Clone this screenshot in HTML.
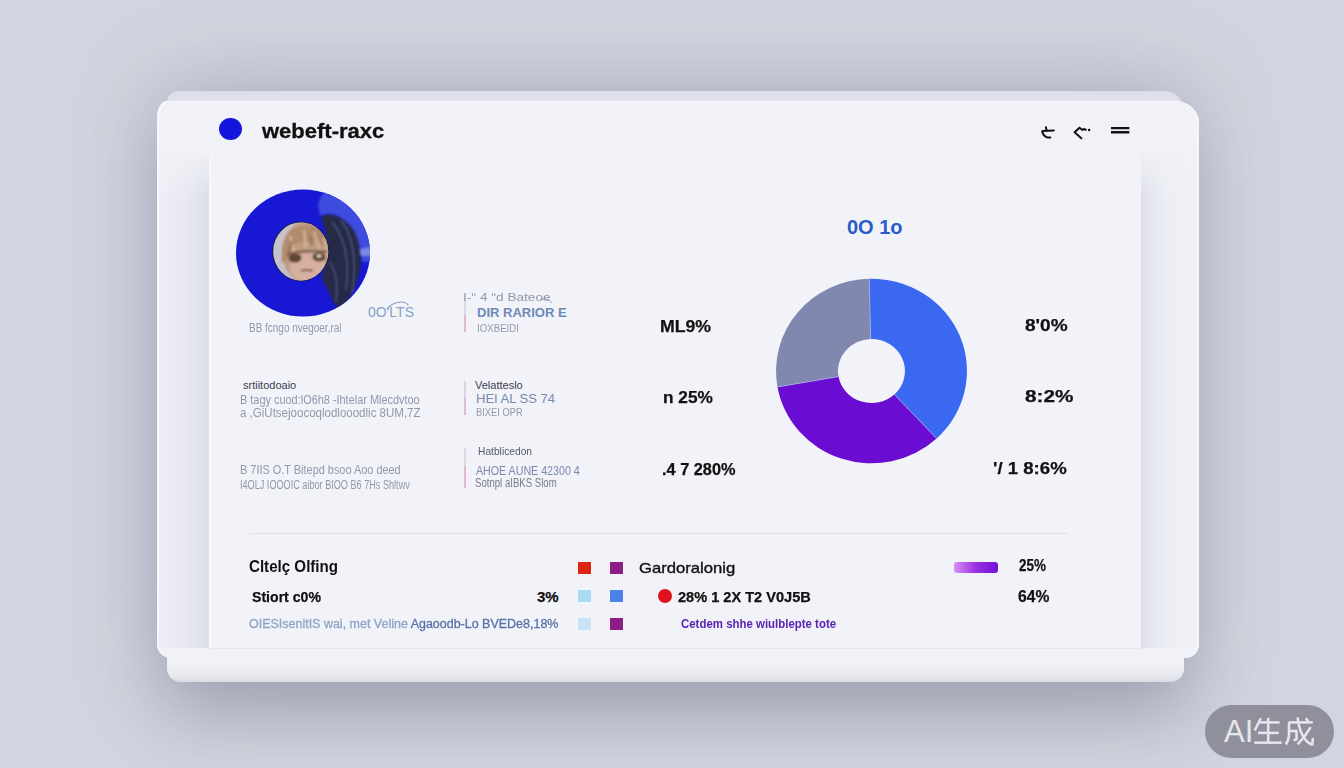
<!DOCTYPE html>
<html><head><meta charset="utf-8">
<style>
html,body{margin:0;padding:0;}
body{width:1344px;height:768px;overflow:hidden;position:relative;font-family:"Liberation Sans",sans-serif;
background:#d2d4df;}
.abs{position:absolute;}
.t{position:absolute;white-space:nowrap;line-height:1;transform-origin:0 0;}
#back{left:167px;top:91px;width:1017px;height:591px;border-radius:12px 20px 14px 14px;background:linear-gradient(#dcdde8 0,#e0e1eb 8px,#eff0f6 40px,#f2f3f8 90%,#f2f2f7 96%,#e8e9ef 99%,#dadbe3 100%);box-shadow:0 0 90px rgba(120,124,148,.36),0 30px 70px rgba(100,104,125,.38);}
#front{left:157px;top:101px;width:1042px;height:557px;border-radius:10px 24px 14px 14px / 17px 22px 14px 14px;background:#f1f2f7;box-shadow:inset 2px 1px 0 #f8f8fc,inset -2px 0 0 #f6f6fa;}
#inner{left:209px;top:157px;width:932px;height:491px;border-radius:5px 5px 0 0;background:#f2f3f8;box-shadow:inset 2px 0 0 #f8f8fc;border-bottom:1px solid #e6e7ee;}
#bevL{left:159px;top:150px;width:50px;height:498px;-webkit-mask-image:linear-gradient(transparent,#000 45px);mask-image:linear-gradient(transparent,#000 45px);background:linear-gradient(90deg,#eff0f6,#e6e7f0 60%,#dcdee9);}
#bevR{left:1141px;top:150px;width:56px;height:498px;-webkit-mask-image:linear-gradient(transparent,#000 45px);mask-image:linear-gradient(transparent,#000 45px);background:linear-gradient(90deg,#dfe0ea,#eceef4 45%,#f0f1f6);}
#badge{left:1205px;top:705px;width:129px;height:53px;border-radius:27px;background:#8f909c;}
.g{color:#9297ac;font-size:12px;}
.dk{color:#3c4052;font-size:11px;}
.bg{color:#7a88b0;font-size:13px;}
.pc{color:#111;font-size:17px;font-weight:bold;-webkit-text-stroke:0.25px #111;}
.sq{position:absolute;width:13px;height:12px;}
</style></head>
<body>
<div class="abs" id="back"></div>
<div class="abs" id="front"></div>
<div class="abs" id="bevL"></div>
<div class="abs" id="bevR"></div>
<div class="abs" id="inner"></div>
<div class="abs" id="badge"></div>

<!-- header -->
<div class="abs" style="left:219px;top:118px;width:23px;height:22px;border-radius:50%;background:#1414dc;"></div>
<div class="t" style="left:262px;top:121px;font-size:20px;font-weight:bold;color:#111;-webkit-text-stroke:0.3px #111;transform:scaleX(1.1);">webeft-raxc</div>

<svg class="abs" style="left:0;top:0" width="1344" height="768" viewBox="0 0 1344 768">
  <defs>
    <radialGradient id="face" cx="0.5" cy="0.6" r="0.6">
      <stop offset="0" stop-color="#d8ac8a"/>
      <stop offset="0.55" stop-color="#b88c6c"/>
      <stop offset="1" stop-color="#a08070"/>
    </radialGradient>
    <clipPath id="avc"><ellipse cx="303" cy="253" rx="67" ry="63.5"/></clipPath>
    <clipPath id="fc"><ellipse cx="300.7" cy="251.4" rx="27.5" ry="29"/></clipPath>
    <filter id="bl1" x="-20%" y="-20%" width="140%" height="140%"><feGaussianBlur stdDeviation="1.2"/></filter>
    <filter id="bl2" x="-20%" y="-20%" width="140%" height="140%"><feGaussianBlur stdDeviation="3"/></filter>
  </defs>
  <g fill="none" stroke="#111" stroke-width="2.0" stroke-linecap="round" stroke-linejoin="round">
    <path d="M1045.9 127.3 L1046.4 129.6 M1042.6 131 L1053.9 130.4 M1042.2 131.8 Q1044 136.8 1047.6 137.4 H1050.3"/>
    <path d="M1079.5 127.8 L1074.6 132.3 L1081.3 138.3 M1079.5 127.8 L1082.4 130 L1083.8 129 L1085.8 129.7"/>
    <circle cx="1089.1" cy="130" r="1.3" fill="#111" stroke="none"/>
    <path d="M1111 128.1 H1129.4 M1111 132.2 H1129.4" stroke-width="2.4" stroke-linecap="butt"/>
  </g>
  <!-- avatar -->
  <ellipse cx="303" cy="253" rx="67" ry="63.5" fill="#1818d4"/>
  <g clip-path="url(#avc)">
    <path d="M318 205 Q322 186 340 186 L385 186 L385 262 L362 262 Q358 232 340 218 Q330 212 320 216 Z" fill="#3c4cdf" filter="url(#bl1)"/>
    <path d="M356 250 L374 246 L374 256 L358 256 Z" fill="#7a88e6" filter="url(#bl1)"/>
    <path d="M321 216.6 Q328 213 335.5 215.7 Q346 220 352 228 Q360 238 361 264 Q359 276 356.5 283.4 Q351 296 344 304.5 Q340 308 335.5 306 Q331 298 328.4 290.4 Q323 282 321.4 276.4 Q325 266 327.5 255.3 Q327 240 325 230.7 Z" fill="#262b46" filter="url(#bl1)"/>
    <path d="M332 222 C344 236 350 258 346 290 M341 220 C353 236 357 262 352 294 M330 262 C336 272 338 286 336 302" stroke="#5a6690" stroke-width="1.4" fill="none" filter="url(#bl1)" opacity="0.85"/>
  </g>
  <ellipse cx="300.7" cy="251.4" rx="28.5" ry="30" fill="#1c1e48"/>
  <g clip-path="url(#fc)">
    <rect x="270" y="220" width="62" height="64" fill="#c6c2cc"/>
    <g filter="url(#bl1)">
    <ellipse cx="307" cy="252" rx="25" ry="31" fill="#c09c84"/>
    <ellipse cx="308" cy="268" rx="18" ry="14" fill="#d6b0a0"/>
    <path d="M282 262 Q280 232 300 226 Q322 222 332 244 L332 252 Q318 240 306 242 Q292 240 286 262 Z" fill="#b08c6c"/>
    <path d="M290 236 L296 258 M304 230 L306 248 M314 232 L320 250 M324 238 L328 258" stroke="#d4b694" stroke-width="2.2" fill="none"/>
    <path d="M292 241 L288 256 M310 236 L312 246" stroke="#8a6448" stroke-width="1.6" fill="none"/>
    <ellipse cx="295" cy="258" rx="6.5" ry="4.5" fill="#5e4434"/>
    <ellipse cx="319" cy="257" rx="6.5" ry="4.5" fill="#5e4434"/>
    <path d="M287 254 Q306 249 327 252" stroke="#6a5040" stroke-width="1.8" fill="none"/>
    <ellipse cx="319" cy="256" rx="2.5" ry="1.5" fill="#e8e0d8"/>
    <path d="M301 271 Q307 269 313 271" stroke="#8a5a50" stroke-width="2" fill="none"/>
    </g>
  </g>
  <!-- donut -->
  <path d="M869.2 278.7 A95.4 92.3 0 0 1 936.6 438.5 L894.3 394.4 A33.5 32 0 0 0 870.7 339.0 Z" fill="#3a68f1"/>
  <path d="M936.6 438.5 A95.4 92.3 0 0 1 777.5 387.0 L838.5 376.6 A33.5 32 0 0 0 894.3 394.4 Z" fill="#6a0cd2"/>
  <path d="M777.5 387.0 A95.4 92.3 0 0 1 869.2 278.7 L870.7 339.0 A33.5 32 0 0 0 838.5 376.6 Z" fill="#8088b0"/>
  <path d="M870.7 339.0 L869.2 278.7 M894.3 394.4 L936.6 438.5 M838.5 376.6 L777.5 387.0" stroke="#a9b2ec" stroke-width="0.9" opacity="0.8"/>
  <!-- vertical lines col2 -->
  <g stroke-width="1.5">
    <path d="M465 300 V315" stroke="#cfd0dc"/><path d="M465 315 V332" stroke="#dca4c2"/>
    <path d="M465 381 V398" stroke="#cdcedb"/><path d="M465 398 V415" stroke="#d8aac4"/>
    <path d="M465 448 V466" stroke="#cfd0dc"/><path d="M465 466 V488" stroke="#dca4c2"/>
  </g>
  <path d="M250 533.5 H1068" stroke="#dfe1ea" stroke-width="1"/>
  <path d="M387 309 Q393 302 401 302 Q406 302 408.5 305.5" stroke="#8aa0c4" stroke-width="1.2" fill="none"/>
  <path d="M540 300 Q548 297 552 303" stroke="#9aa0b8" stroke-width="1" fill="none"/>
  <!-- badge glyphs -->
  <g fill="none" stroke="#e6e6ec" stroke-width="2.5" stroke-linecap="butt" stroke-linejoin="round">
    <path d="M1260.8 718.2 L1254.7 730.5"/>
    <path d="M1258.4 722.4 H1279.6"/>
    <path d="M1268.2 717.8 V742.7"/>
    <path d="M1258 732.9 H1278.8"/>
    <path d="M1254.3 742.7 H1281.7"/>
    <path d="M1288.6 722.4 H1312.8"/>
    <path d="M1289 722.4 V734.5 Q1289 740 1285.8 744.4"/>
    <path d="M1289 730.9 H1296.5 V739 Q1296 740.5 1293.6 739.5"/>
    <path d="M1297.6 717.4 Q1299 732 1306 740.5 Q1310 744.5 1312.4 744.4 L1312.8 737.8"/>
    <path d="M1305.8 718.2 L1308.3 721.5"/>
    <path d="M1310.7 727.2 Q1305 737 1297.6 744.4"/>
  </g>
</svg>

<!-- left column -->
<div class="t" style="left:368px;top:305px;font-size:14px;color:#8aa0c4;">0O'LTS</div>
<div class="t g" style="left:249px;top:322px;font-size:12px;transform:scaleX(0.83);">BB fcngo nvegoer,ral</div>

<div class="t dk" style="left:243px;top:380px;">srtiitodoaio</div>
<div class="t g" style="left:240px;top:394px;transform:scaleX(0.91);">B tagy cuod:lO6h8 -Ihtelar  Mlecdvtoo</div>
<div class="t g" style="left:240px;top:407px;transform:scaleX(0.96);">a ,GiUtsejoocoqlodlooodlic 8UM,7Z</div>

<div class="t g" style="left:240px;top:464px;transform:scaleX(0.91);">B 7IIS O.T Bitepd bsoo Aoo deed</div>
<div class="t g" style="left:240px;top:479px;transform:scaleX(0.76);">I4OLJ IOOOIC aibor BIOO B6 7Hs Shltwv</div>

<!-- col2 -->
<div class="t g" style="left:463px;top:293px;font-size:10px;transform:scaleX(1.36);">I-ʺ 4 ʺd Bateoe</div>
<div class="t bg" style="left:477px;top:306px;font-weight:bold;color:#6c8ab8;">DIR RARIOR E</div>
<div class="t g" style="left:477px;top:323px;font-size:11px;transform:scaleX(0.88);">IOXBEIDI</div>

<div class="t dk" style="left:475px;top:380px;">Velatteslo</div>
<div class="t bg" style="left:476px;top:392px;">HEI AL SS 74</div>
<div class="t g" style="left:476px;top:407px;font-size:11px;transform:scaleX(0.85);">BIXEI OPR</div>

<div class="t dk" style="left:478px;top:446px;color:#565a6c;transform:scaleX(0.93);">Hatblicedon</div>
<div class="t bg" style="left:476px;top:464px;transform:scaleX(0.82);">AHOE AUNE 42300 4</div>
<div class="t g" style="left:475px;top:477px;color:#767a8c;transform:scaleX(0.8);">Sotnpl aIBKS Slom</div>

<!-- percentages -->
<div class="t pc" style="left:660px;top:318px;transform:scaleX(1.04);">ML9%</div>
<div class="t pc" style="left:663px;top:389px;transform:scaleX(1.015);">n 25%</div>
<div class="t pc" style="left:662px;top:461px;transform:scaleX(0.96);">.4 7 280%</div>

<div class="t" style="left:847px;top:217px;font-size:20px;font-weight:bold;color:#2a5cc8;">0O 1o</div>

<div class="t pc" style="left:1025px;top:317px;transform:scaleX(1.12);">8'0%</div>
<div class="t pc" style="left:1025px;top:388px;transform:scaleX(1.218);">8:2%</div>
<div class="t pc" style="left:993px;top:460px;transform:scaleX(1.094);">'/ 1 8:6%</div>

<!-- bottom rows -->
<div class="t" style="left:249px;top:559px;font-size:16px;font-weight:bold;color:#111;transform:scaleX(0.945);">Cltelç Olfing</div>
<div class="sq" style="left:578px;top:562px;background:#e02412;"></div>
<div class="sq" style="left:610px;top:562px;background:#8c1c82;"></div>
<div class="t" style="left:639px;top:560px;font-size:15px;color:#111;-webkit-text-stroke:0.35px #111;transform:scaleX(1.11);">Gardoralonig</div>
<div class="abs" style="left:954px;top:562px;width:44px;height:11px;border-radius:3px;background:linear-gradient(90deg,#d890f4,#9a30e0 50%,#7010d8);"></div>
<div class="t pc" style="left:1019px;top:558px;font-size:16px;transform:scaleX(0.84);">25%</div>

<div class="t pc" style="left:252px;top:589px;font-size:15px;transform:scaleX(0.94);">Stiort c0%</div>
<div class="t pc" style="left:537px;top:589px;font-size:15px;">3%</div>
<div class="sq" style="left:578px;top:590px;background:#a8daf2;"></div>
<div class="sq" style="left:610px;top:590px;background:#4a82ea;"></div>
<div class="abs" style="left:658px;top:589px;width:14px;height:14px;border-radius:50%;background:#e0121e;"></div>
<div class="t pc" style="left:678px;top:590px;font-size:14px;transform:scaleX(1.04);">28% 1 2X T2 V0J5B</div>
<div class="t pc" style="left:1018px;top:588px;transform:scaleX(0.92);">64%</div>

<div class="t" style="left:249px;top:618px;font-size:12px;color:#8fa4c8;-webkit-text-stroke:0.3px #8fa4c8;transform:scaleX(1.04);">OIESIsenitIS  wai, met  Veline <span style="color:#5a72aa;-webkit-text-stroke:0.3px #5a72aa;">Agaoodb-Lo BVEDe8,18%</span></div>
<div class="sq" style="left:578px;top:618px;background:#c8e2f6;"></div>
<div class="sq" style="left:610px;top:618px;background:#8c1c82;"></div>
<div class="t" style="left:681px;top:617px;font-size:13px;font-weight:bold;color:#5a22b2;transform:scaleX(0.88);">Cetdem shhe wiulblepte tote</div>

<!-- badge -->
<div class="t" style="left:1224px;top:716px;font-size:31px;color:#e6e6ec;">AI</div>
</body></html>
